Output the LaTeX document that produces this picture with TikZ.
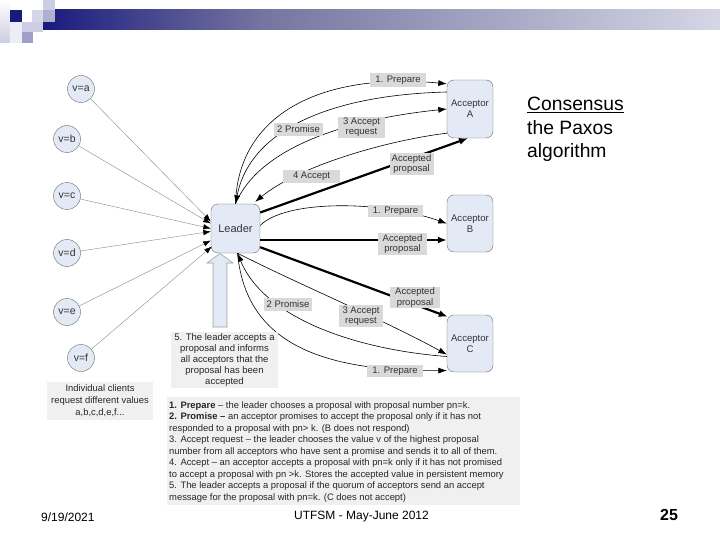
\documentclass[tikz,border=0pt]{standalone}
\usepackage{fontspec}
\setmainfont{Liberation Sans}
\usetikzlibrary{arrows.meta,calc}
\definecolor{nodeblue}{HTML}{E3EAF6}
\definecolor{labgray}{HTML}{D9D9D9}
\definecolor{lightbox}{HTML}{F0F0F0}
\definecolor{bordergray}{HTML}{6A6A6A}
\definecolor{navy}{HTML}{1A1A7E}
\definecolor{barmid}{HTML}{7474A0}
\definecolor{barend}{HTML}{D6D6E6}
\begin{document}
\begin{tikzpicture}[x=1pt,y=-1pt,
  client/.style={circle,draw=bordergray,fill=nodeblue,minimum size=27pt,inner sep=0pt,font=\fontsize{10.5}{12}\selectfont,text=black!80},
  actor/.style={rounded corners=7pt,draw=bordergray,fill=nodeblue,minimum width=46pt,inner sep=0pt,align=center,font=\fontsize{9.6}{11}\selectfont,text=black!80},
  lab/.style={fill=labgray,inner sep=0pt,align=center,font=\fontsize{9.5}{10.3}\selectfont,text=black!80},
  note/.style={fill=lightbox,inner sep=0pt,align=center,text=black!85},
  thinarrow/.style={line width=0.6pt,-{Latex[length=8.5pt,width=6pt]}},
  thickarrow/.style={line width=2.2pt,-{Latex[length=9pt,width=7pt]}},
  clientarrow/.style={draw=gray!85,line width=0.45pt,-{Latex[length=7.5pt,width=5.5pt,color=black]}},
]
\useasboundingbox (0,0) rectangle (720,540);
\fill[white] (0,0) rectangle (720,540);
% top decoration
\shade[left color=navy,right color=barmid] (43,10) rectangle (260,30);
\shade[left color=barmid,right color=barend] (259.5,10) rectangle (720,30);
\shade[top color=white,bottom color=navy!22] (0,0) rectangle (10,43);
\fill[navy] (10,10) rectangle (22,22);
\fill[white] (22,10) rectangle (32,22);
\fill[navy!18] (32,10) rectangle (43,22);
\fill[navy!35] (43,10) rectangle (55,22);
\fill[navy!22] (43,0) rectangle (55,10);
\fill[navy!22] (22,22) rectangle (43,32);
\fill[navy!42] (22,32) rectangle (33,43);
\fill[navy!8] (10,22) rectangle (22,43);

% title
\node[anchor=base west,inner sep=0pt,font=\fontsize{19.3}{23}\selectfont] (t1) at (527,111) {\underline{Consensus}};
\node[anchor=base west,inner sep=0pt,font=\fontsize{19.3}{23}\selectfont] (t2) at (527,135) {the Paxos};
\node[anchor=base west,inner sep=0pt,font=\fontsize{19.3}{23}\selectfont] (t3) at (527,158) {algorithm};

% main nodes
\node[actor,minimum width=49pt,minimum height=49pt,font=\fontsize{11}{13}\selectfont] (L) at (235.5,228.5) {Leader};
\node[actor,minimum height=58pt] (A) at (470,109) {Acceptor\\A};
\node[actor,minimum height=57pt] (B) at (470,223.5) {Acceptor\\B};
\node[actor,minimum height=57pt] (C) at (470,343.5) {Acceptor\\C};

\node[client] (va) at (81,89) {v=a};
\node[client] (vb) at (67,139) {v=b};
\node[client] (vc) at (67,196) {v=c};
\node[client] (vd) at (67,253) {v=d};
\node[client] (ve) at (67,312) {v=e};
\node[client] (vf) at (81,358) {v=f};

% client arrows
\draw[clientarrow] (va) -- ($(L.west)+(0,-7)$);
\draw[clientarrow] (vb) -- ($(L.west)+(0,-5)$);
\draw[clientarrow] (vc) -- ($(L.west)+(0,0)$);
\draw[clientarrow] (vd) -- ($(L.west)+(0,3)$);
\draw[clientarrow] (ve) -- ($(L.west)+(0,12)$);
\draw[clientarrow] (vf) -- ($(L.west)+(1,18)$);

% Leader <-> A
\draw[thinarrow] (L.north) .. controls (238,115) and (320,72) .. ($(A.north west)+(0,4)$);
\draw[thinarrow] ($(A.west)+(0,-17)$) .. controls (330,95) and (250,130) .. (L.north);
\draw[thinarrow] (L.north) .. controls (258,150) and (340,120) .. (A.west);
\draw[thinarrow] ($(A.south west)+(0,-5)$) .. controls (390,140) and (300,165) .. ($(L.north east)+(-5,-2)$);
\draw[thickarrow] ($(L.east)+(0,-16)$) -- ($(A.south)+(-2,0)$);

% Leader -> B
\draw[thinarrow] ($(L.east)+(0,-3)$) .. controls (285,200) and (380,200) .. (B.west);
\draw[thickarrow] ($(L.east)+(0,11.5)$) -- ($(B.west)+(0,16.5)$);

% Leader <-> C
\draw[thickarrow] ($(L.south east)+(0,-6)$) -- ($(C.north west)+(1,2)$);
\draw[thinarrow] ($(L.south)+(2,0)$) .. controls (245,330) and (300,372) .. ($(C.west)+(0,27)$);
\draw[thinarrow] ($(C.west)+(0,13)$) .. controls (360,350) and (265,320) .. ($(L.south)+(2,0)$);
\draw[thinarrow] ($(L.south)+(2,0)$) .. controls (300,285) and (380,318) .. ($(C.west)+(0,11)$);

% labels on connectors
\node[lab,minimum width=56pt,minimum height=14pt] (pa) at (398,80) {1. Prepare};
\node[lab,minimum width=49pt,minimum height=13pt] (pra) at (298.5,129.5) {2 Promise};
\node[lab,minimum width=47pt,minimum height=21pt] (ara) at (361.5,127.5) {3 Accept\\request};
\node[lab,minimum width=57pt,minimum height=13pt] (aa) at (311.5,176.5) {4 Accept};
\node[lab,minimum width=44pt,minimum height=22pt] (apa) at (411.5,164) {Accepted\\proposal};
\node[lab,minimum width=55pt,minimum height=12pt] (pb) at (395.5,211.5) {1. Prepare};
\node[lab,minimum width=49pt,minimum height=22pt] (apb) at (402.5,244) {Accepted\\proposal};
\node[lab,minimum width=50pt,minimum height=21pt] (apc) at (415,297.5) {Accepted\\proposal};
\node[lab,minimum width=48pt,minimum height=13pt] (prc) at (288,304.5) {2 Promise};
\node[lab,minimum width=44pt,minimum height=22pt] (arc) at (361,316) {3 Accept\\request};
\node[lab,minimum width=56pt,minimum height=12pt] (pc) at (395,371) {1. Prepare};

% big hollow arrow
\filldraw[fill=nodeblue,draw=gray!75,line width=0.6pt] (213,327) -- (213,263) -- (207,263) -- (220,253.5) -- (233,263) -- (227,263) -- (227,327) -- cycle;

% notes
\node[note,minimum width=107pt,minimum height=56pt,font=\fontsize{9.5}{11.2}\selectfont] (n5) at (224.5,360) {5. The leader accepts a\\proposal and informs\\all acceptors that the\\proposal has been\\accepted};
\node[note,minimum width=106pt,minimum height=38pt,font=\fontsize{9.4}{12}\selectfont] (nc) at (100,401) {Individual clients\\request different values\\a,b,c,d,e,f...};

\fill[lightbox] (167,397) rectangle (520,505);
\node[anchor=north west,align=left,inner sep=0pt,font=\fontsize{9.4}{11.5}\selectfont,text=black!85] (expl) at (169,401) {%
{\bfseries 1. Prepare} -- the leader chooses a proposal with proposal number pn=k.\\
{\bfseries 2. Promise --} an acceptor promises to accept the proposal only if it has not\\
responded to a proposal with pn> k. (B does not respond)\\
3. Accept request -- the leader chooses the value v of the highest proposal\\
number from all acceptors who have sent a promise and sends it to all of them.\\
4. Accept -- an acceptor accepts a proposal with pn=k only if it has not promised\\
to accept a proposal with pn >k. Stores the accepted value in persistent memory\\
5. The leader accepts a proposal if the quorum of acceptors send an accept\\
message for the proposal with pn=k. (C does not accept)};

% footer
\node[anchor=west,inner sep=0pt,font=\fontsize{12}{14}\selectfont] (date) at (41,517) {9/19/2021};
\node[inner sep=0pt,font=\fontsize{12}{14}\selectfont] (foot) at (361.5,517) {UTFSM - May-June 2012};
\node[inner sep=0pt,font=\bfseries\fontsize{16}{18}\selectfont] (pg) at (669,515) {25};
\end{tikzpicture}
\end{document}
